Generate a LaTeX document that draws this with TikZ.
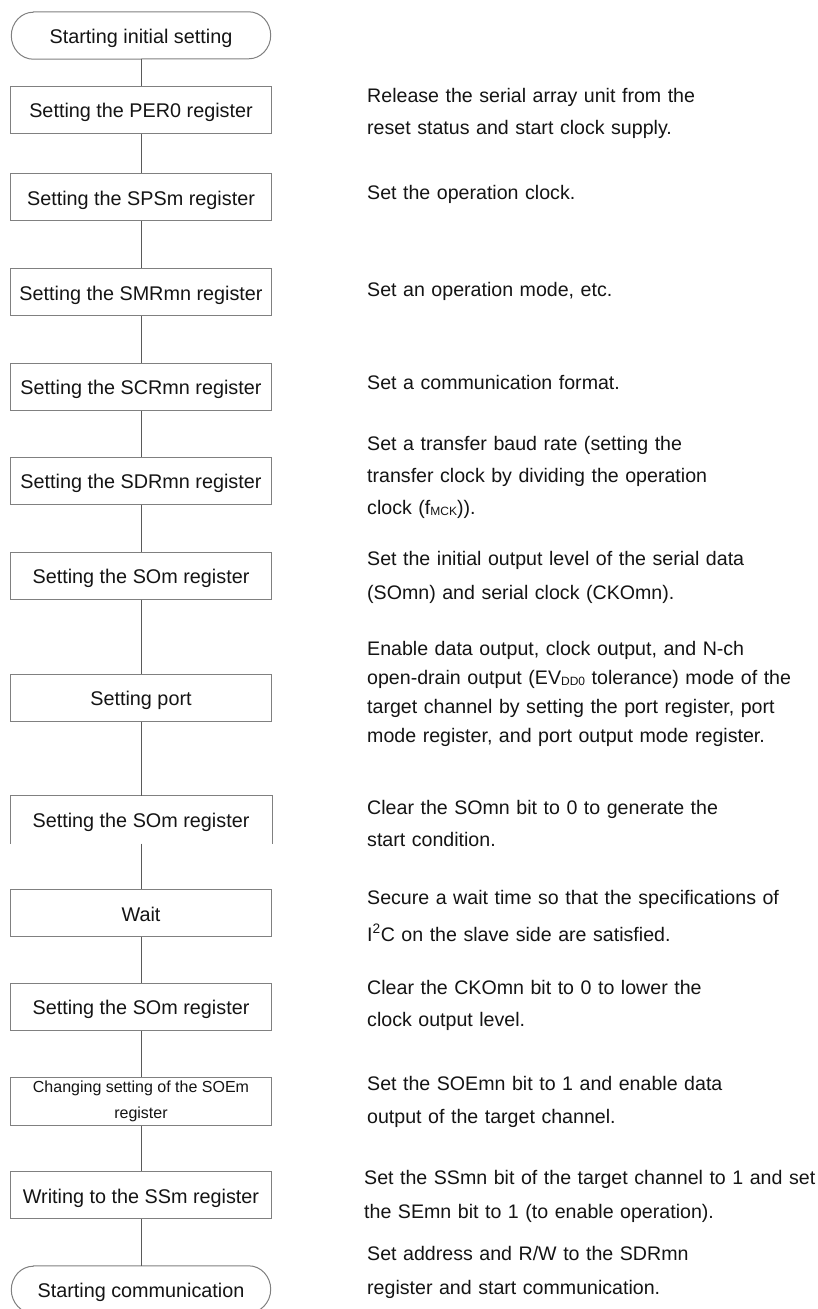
\documentclass[tikz,border=0pt]{standalone}
\usepackage{fontspec}
\setmainfont{Liberation Sans}
\definecolor{boxgray}{RGB}{128,128,128}
\definecolor{conngray}{RGB}{90,90,90}
\definecolor{txt}{RGB}{20,20,20}
\newcommand{\sbs}[1]{\raisebox{-1.5pt}{\fontsize{12}{12}\selectfont #1}}
\begin{document}
\begin{tikzpicture}[x=1pt,y=-1pt,
  stepbox/.style={draw=boxgray, line width=1pt, minimum width=261pt, minimum height=47pt,
    inner sep=0pt, text=txt, font=\fontsize{19.8}{24}\selectfont, text height=16pt, text depth=0pt},
  openbox/.style={stepbox, draw=none},
  multibox/.style={draw=boxgray, line width=1pt, minimum width=261pt, minimum height=48pt,
    inner sep=0pt, text=txt, align=center, font=\fontsize{16}{26}\selectfont},
  term/.style={minimum width=259pt, minimum height=47pt, inner sep=0pt, text=txt,
    font=\fontsize{19.8}{24}\selectfont, text height=16pt, text depth=0pt},
  termline/.style={draw=boxgray, line width=1pt},
  conn/.style={draw=conngray, line width=1pt},
  desc/.style={anchor=base west, inner sep=0pt, text width=620pt, align=left, text=txt,
    font=\fontsize{19.6}{32}\selectfont},
]
\useasboundingbox (0,0) rectangle (817,1309);
\clip (0,0) rectangle (817,1309);
\fill[white] (0,0) rectangle (817,1309);

% terminals
\node[term] (t1) at (141,35.5) {Starting initial setting};
\node[term] (t2) at (141,1289.5) {Starting communication};
\foreach \t in {t1,t2}{
  \draw[termline] ([xshift=22pt]\t.north west) -- ([xshift=-22pt]\t.north east)
    arc[start angle=90,end angle=-90,x radius=22pt,y radius=23.5pt]
    -- ([xshift=22pt]\t.south west)
    arc[start angle=270,end angle=90,x radius=22pt,y radius=23.5pt] -- cycle;
}

% process boxes
\node[stepbox] (b1) at (141,109.5) {Setting the PER0 register};
\node[stepbox] (b2) at (141,197) {Setting the SPSm register};
\node[stepbox] (b3) at (141,292) {Setting the SMRmn register};
\node[stepbox] (b4) at (141,386.5) {Setting the SCRmn register};
\node[stepbox] (b5) at (141,480.5) {Setting the SDRmn register};
\node[stepbox] (b6) at (141,575.5) {Setting the SOm register};
\node[stepbox] (b7) at (141,697.5) {Setting port};
\node[openbox] (b8) at (141,819.5) {Setting the SOm register};
\draw[draw=boxgray, line width=1pt] (b8.south west) -- (b8.north west) -- (b8.north east) -- (b8.south east);
\node[stepbox] (b9) at (141,913) {Wait};
\node[stepbox] (b10) at (141,1006.5) {Setting the SOm register};
\node[multibox] (b11) at (141,1101) {Changing setting of the SOEm\\register};
\node[stepbox] (b12) at (141,1195) {Writing to the SSm register};

% connectors
\draw[conn] (t1.south) -- (b1.north);
\draw[conn] (b1.south) -- (b2.north);
\draw[conn] (b2.south) -- (b3.north);
\draw[conn] (b3.south) -- (b4.north);
\draw[conn] (b4.south) -- (b5.north);
\draw[conn] (b5.south) -- (b6.north);
\draw[conn] (b6.south) -- (b7.north);
\draw[conn] (b7.south) -- (b8.north);
\draw[conn] (b8.south) -- (b9.north);
\draw[conn] (b9.south) -- (b10.north);
\draw[conn] (b10.south) -- (b11.north);
\draw[conn] (b11.south) -- (b12.north);
\draw[conn] (b12.south) -- (t2.north);

% descriptions
\node[desc] (d1) at (367,102) {Release the serial array unit from the\\reset status and start clock supply.};
\node[desc] (d2) at (367,199) {Set the operation clock.};
\node[desc] (d3) at (367,296) {Set an operation mode, etc.};
\node[desc] (d4) at (367,389) {Set a communication format.};
\node[desc] (d5) at (367,450) {Set a transfer baud rate (setting the\\transfer clock by dividing the operation\\clock (f\sbs{MCK})).};
\node[desc, font=\fontsize{19.6}{34}\selectfont] (d6) at (367,565) {Set the initial output level of the serial data\\(SOmn) and serial clock (CKOmn).};
\node[desc, font=\fontsize{19.6}{29}\selectfont] (d7) at (367,655) {Enable data output, clock output, and N-ch\\open-drain output (EV\sbs{DD0} tolerance) mode of the\\target channel by setting the port register, port\\mode register, and port output mode register.};
\node[desc] (d8) at (367,814) {Clear the SOmn bit to 0 to generate the\\start condition.};
\node[desc, font=\fontsize{19.6}{37}\selectfont] (d9) at (367,904) {Secure a wait time so that the specifications of\\I\textsuperscript{2}C on the slave side are satisfied.};
\node[desc] (d10) at (367,994) {Clear the CKOmn bit to 0 to lower the\\clock output level.};
\node[desc, font=\fontsize{19.6}{33}\selectfont] (d11) at (367,1090) {Set the SOEmn bit to 1 and enable data\\output of the target channel.};
\node[desc, font=\fontsize{19.6}{34}\selectfont] (d12) at (364,1184) {Set the SSmn bit of the target channel to 1 and set\\the SEmn bit to 1 (to enable operation).};
\node[desc, font=\fontsize{19.6}{34}\selectfont] (d13) at (367,1260) {Set address and R/W to the SDRmn\\register and start communication.};
\end{tikzpicture}
\end{document}
